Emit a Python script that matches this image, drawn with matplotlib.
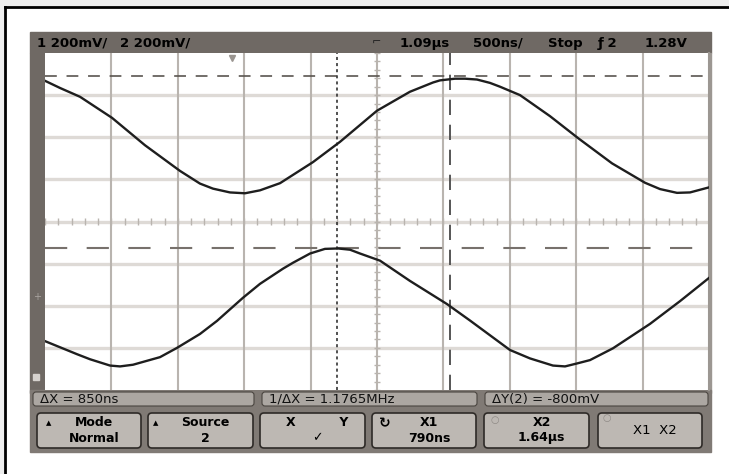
# oscilloscope screen capture: two sine traces with X/Y cursors
import numpy as np
import matplotlib.pyplot as plt
from matplotlib.patches import Rectangle, FancyBboxPatch

plt.rcParams['lines.scale_dashes'] = False

# scope settings (time in us, vertical in divisions)
time_per_div = 0.5
delay = 1.09
x1_cursor = 0.79
x2_cursor = 1.64
y1_cursor = 3.45
y2_cursor = -0.62
trig_time = 0.0

# channel traces
t1 = [-1.41, -1.297, -1.146, -0.905, -0.657, -0.393, -0.243, -0.145, -0.017, 0.096,
      0.209, 0.36, 0.608, 0.811, 1.09, 1.338, 1.512, 1.564, 1.677, 1.753,
      1.843, 1.941, 2.016, 2.167, 2.393, 2.604, 2.86, 3.108, 3.221, 3.349,
      3.447, 3.59]
v1 = [3.34, 3.17, 2.96, 2.46, 1.81, 1.2, 0.9, 0.78, 0.69, 0.67,
      0.74, 0.91, 1.41, 1.89, 2.63, 3.08, 3.30, 3.35, 3.39, 3.39,
      3.37, 3.29, 3.2, 3.0, 2.5, 1.98, 1.38, 0.92, 0.77, 0.68,
      0.69, 0.81]
t2 = [-1.41, -1.169, -1.071, -0.92, -0.845, -0.747, -0.657, -0.544, -0.416, -0.243,
      -0.115, 0.081, 0.209, 0.382, 0.457, 0.586, 0.698, 0.796, 0.887, 0.962,
      1.113, 1.338, 1.617, 1.79, 2.091, 2.242, 2.415, 2.506, 2.596, 2.694,
      2.867, 3.146, 3.372, 3.59]
v2 = [-2.84, -3.15, -3.27, -3.42, -3.44, -3.40, -3.32, -3.22, -3.0, -2.67,
      -2.36, -1.81, -1.48, -1.12, -0.98, -0.76, -0.65, -0.64, -0.67, -0.76,
      -0.93, -1.41, -1.96, -2.35, -3.05, -3.25, -3.42, -3.44, -3.37, -3.29,
      -3.01, -2.43, -1.89, -1.34]

header_left = ['1 200mV/', '2 200mV/']
header_right = ['1.09\u00b5s', '500ns/', 'Stop', '\u0192 2', '1.28V']
status = ['\u0394X = 850ns', '1/\u0394X = 1.1765MHz', '\u0394Y(2) = -800mV']
key_top = ['Mode', 'Source', 'X          Y', 'X1', 'X2', 'X1  X2']
key_bot = ['Normal', '2', '\u2713', '790ns', '1.64\u00b5s', '']

fig = plt.figure(figsize=(7.29, 4.74), dpi=100)

# background / instrument frame drawn in pixel units
bg = fig.add_axes([0, 0, 1, 1])
bg.set_xlim(0, 729)
bg.set_ylim(474, 0)
bg.axis('off')
bg.add_patch(Rectangle((0, 0), 729, 474, color='#eeeeee'))
bg.add_patch(Rectangle((5, 7), 724, 467, color='white'))
bg.plot([5, 729], [7, 7], color='black', lw=2)
bg.plot([5, 5], [7, 474], color='black', lw=2)

panel = '#6f6964'
bg.add_patch(Rectangle((30, 32), 681, 21, color=panel))
bg.add_patch(Rectangle((30, 53), 15, 340, color=panel))
bg.add_patch(Rectangle((706, 53), 5, 340, color='#9c9792'))
bg.add_patch(Rectangle((30, 390), 681, 62, color='#807a75'))

# header text
bg.text(37, 43, header_left[0], fontsize=9.5, fontweight='bold', va='center')
bg.text(120, 43, header_left[1], fontsize=9.5, fontweight='bold', va='center')
bg.text(372, 43, '\u2310', fontsize=8, va='center', color='#222222')
for s, xp in zip(header_right, [400, 473, 548, 598, 645]):
    bg.text(xp, 43, s, fontsize=9.5, fontweight='bold', va='center')

# status line
for s, (xa, xb) in zip(status, [(33, 254), (262, 477), (485, 708)]):
    bg.add_patch(FancyBboxPatch((xa, 392), xb - xa, 14,
                                boxstyle='round,pad=0,rounding_size=3',
                                facecolor='#aca7a2', edgecolor='#4a4540', lw=0.8))
    bg.text(xa + 7, 399.5, s, fontsize=9.5, va='center', color='#111111')

# softkeys
keys_x = [(37, 141), (148, 253), (260, 365), (372, 476), (484, 589), (598, 702)]
for i, (xa, xb) in enumerate(keys_x):
    bg.add_patch(FancyBboxPatch((xa, 413), xb - xa, 35,
                                boxstyle='round,pad=0,rounding_size=4',
                                facecolor='#bdb8b3', edgecolor='#2e2a27', lw=1.2))
    cx = (xa + xb) / 2 + 5
    if key_bot[i]:
        bg.text(cx, 423, key_top[i], fontsize=9, fontweight='bold', ha='center', va='center')
        bg.text(cx, 438, key_bot[i], fontsize=9, fontweight='bold', ha='center', va='center')
    else:
        bg.text(cx, 431, key_top[i], fontsize=9.5, ha='center', va='center')
bg.text(46, 423, '\u25b2', fontsize=5, va='center')
bg.text(153, 423, '\u25b2', fontsize=5, va='center')
bg.text(379, 423, '\u21bb', fontsize=10, fontweight='bold', va='center')
bg.text(491, 420, '\u25cb', fontsize=7, va='center', color='#8e8985')
bg.text(603, 418, '\u25cb', fontsize=7, va='center', color='#8e8985')

# ground markers on the left strip
bg.text(33, 297, '+', fontsize=7, color='#a9a4a0', va='center')
bg.add_patch(Rectangle((33, 374), 6, 6, color='#d6d2ce'))

# graticule
ax = fig.add_axes([45 / 729, (474 - 390) / 474, 664 / 729, 337 / 474])
ax.set_facecolor('white')
ax.set_xlim(delay - 5 * time_per_div, delay + 5 * time_per_div)
ax.set_ylim(-4, 4)
ax.set_xticks([])
ax.set_yticks([])
for side in ['left', 'top', 'bottom']:
    ax.spines[side].set_visible(False)
ax.spines['right'].set_color('#9c9792')
ax.spines['right'].set_linewidth(1.5)

for j in range(-3, 4):
    ax.axhline(j, color='#dedad6', lw=2.4, zorder=1)
for i in range(1, 10):
    ax.axvline(delay + (i - 5) * time_per_div, color='#b9b4af', lw=1.5, zorder=1)

# minor ticks on the centre lines
minor_t = delay + np.arange(-25, 26) * time_per_div / 5
ax.vlines(minor_t, -0.08, 0.08, color='#b9b4af', lw=1, zorder=1)
minor_v = np.arange(-20, 21) / 5
ax.hlines(minor_v, delay - 0.025, delay + 0.025, color='#b9b4af', lw=1, zorder=1)

# cursors
ax.axhline(y1_cursor, color='#5a5550', lw=1.2, dashes=(8.5, 7), zorder=2)
ax.axhline(y2_cursor, color='#77716c', lw=1.5, dashes=(16, 14), zorder=2)
ax.axvline(x1_cursor, color='#333333', lw=1.2, dashes=(2.2, 2.2), zorder=2)
ax.axvline(x2_cursor, color='#555555', lw=1.4, dashes=(11, 7), zorder=2)

# traces
ax.plot(t1, v1, color='#1e1e1e', lw=1.7, zorder=3)
ax.plot(t2, v2, color='#1e1e1e', lw=1.7, zorder=3)

# trigger point marker
ax.plot([trig_time], [3.88], marker='v', ms=5, color='#9a9590', zorder=3, clip_on=False)

fig.savefig('out.png', dpi=100)
